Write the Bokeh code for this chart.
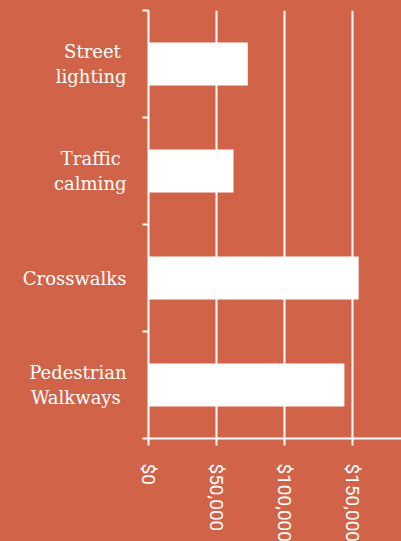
import math
from bokeh.plotting import figure
from bokeh.models import Range1d, FixedTicker, NumeralTickFormatter, ColumnDataSource
from bokeh.embed import file_html
from bokeh.resources import INLINE

NB = "\u00a0"
categories = ["Pedestrian\nWalkways" + NB, "Crosswalks", "Traffic" + NB + "\ncalming", "Street" + NB + "\nlighting"]
spending = [144000, 154500, 62500, 73000]
x_ticks = [0, 50000, 100000, 150000]

BG = "#D16448"

positions = [i + 0.5 for i in range(len(categories))]
src = ColumnDataSource(dict(y=positions, right=spending))

p = figure(width=401, height=560, output_backend="svg", toolbar_location=None,
           x_range=Range1d(0, 186000), y_range=Range1d(0, len(categories)),
           min_border_left=148, min_border_right=0, min_border_top=10, min_border_bottom=100)
p.frame_height = 428
p.frame_width = 253

p.background_fill_color = BG
p.border_fill_color = BG
p.outline_line_color = None

p.hbar(y="y", left=0, right="right", height=0.4, source=src,
       fill_color="white", line_color=None)

# y axis: labels at category centers, ticks at boundaries
ya = p.yaxis[0]
ya.ticker = FixedTicker(ticks=positions, minor_ticks=list(range(len(categories) + 1)))
ya.major_label_overrides = {pos: c for pos, c in zip(positions, categories)}
ya.major_tick_line_color = None
ya.minor_tick_out = 6
ya.minor_tick_in = 0
ya.minor_tick_line_color = "white"
ya.minor_tick_line_width = 2
ya.axis_line_color = "white"
ya.axis_line_width = 2
ya.major_label_text_color = "white"
ya.major_label_text_font = "DejaVu Serif"
ya.major_label_text_font_size = "18px"
ya.major_label_text_line_height = 1.2
ya.major_label_standoff = 16

xa = p.xaxis[0]
xa.ticker = FixedTicker(ticks=x_ticks)
xa.formatter = NumeralTickFormatter(format="$0,0")
xa.major_label_orientation = -math.pi / 2
xa.major_label_text_color = "white"
xa.major_label_text_font = "Roboto"
xa.major_label_text_font_size = "19px"
xa.major_label_standoff = 18
xa.major_tick_out = 7
xa.major_tick_in = 0
xa.major_tick_line_color = "white"
xa.major_tick_line_width = 2
xa.minor_tick_line_color = None
xa.axis_line_color = "white"
xa.axis_line_width = 2

p.xgrid.grid_line_color = "white"
p.xgrid.grid_line_width = 2
p.xgrid.ticker = FixedTicker(ticks=x_ticks)
p.ygrid.grid_line_color = None

html = file_html(p, INLINE)
html = html.replace("</head>", "<style>body{background-color:%s;}</style></head>" % BG, 1)
open("out.html", "w").write(html)
